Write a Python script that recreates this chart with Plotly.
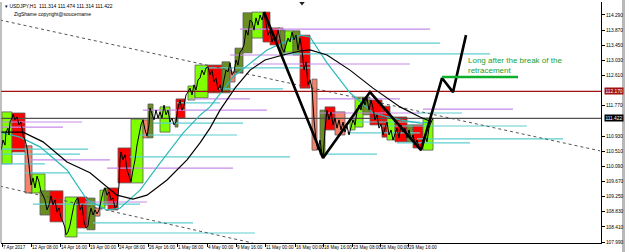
import plotly.graph_objects as go

# ---------------- data ----------------
# time axis: bar position on the chart, with its date labels
tick_pos = [2, 31, 60, 89, 118, 148, 177, 207, 236, 265, 295, 323, 352, 380, 408]
tick_text = ["7 Apr 2017", "12 Apr 08:00", "14 Apr 16:00", "19 Apr 00:00", "24 Apr 08:00",
             "26 Apr 16:00", "1 May 08:00", "4 May 00:00", "9 May 16:00", "11 May 00:00",
             "16 May 00:00", "18 May 16:00", "23 May 08:00", "26 May 00:00", "29 May 16:00"]

price_ticks = [107.99, 108.41, 108.83, 109.25, 109.67, 110.09, 110.51, 110.93,
               111.77, 112.61, 113.03, 113.45, 113.87, 114.29]

# USDJPY H1 price path
bar_x = [1, 3, 5, 6, 8, 9, 10, 12, 13, 15, 17, 19, 21, 23, 25, 27, 29, 30, 31, 33, 35, 37, 39, 41, 43,
         45, 47, 49, 51, 53, 55, 57, 59, 61, 63, 65, 66, 68, 70, 72, 74, 76, 78, 80, 82, 84, 86, 88,
         89, 91, 93, 95, 97, 99, 101, 103, 105, 107, 109, 111, 113, 115, 117, 119, 120, 121, 123,
         125, 127, 129, 131, 133, 135, 137, 139, 141, 143, 145, 147, 149, 150, 152, 154, 156, 158,
         160, 162, 164, 166, 168, 170, 172, 174, 176, 178, 180, 182, 184, 186, 188, 190, 192, 194,
         196, 198, 200, 202, 204, 206, 208, 210, 212, 214, 216, 218, 220, 222, 224, 226, 228, 230,
         232, 234, 236, 238, 240, 242, 244, 246, 248, 250, 252, 254, 256, 258, 260, 262, 264, 266,
         268, 270, 272, 274, 276, 278, 280, 282, 284, 286, 288, 290, 292, 294, 296, 298, 300, 302,
         304, 306, 308, 310, 312, 314, 316, 318, 320, 322, 323, 325, 327, 329, 331, 333, 335, 337,
         339, 341, 343, 345, 347, 349, 351, 353, 355, 357, 359, 361, 363, 365, 367, 369, 371, 373,
         375, 377, 379, 381, 383, 385, 387, 389, 391, 393, 395, 397, 399, 401, 403, 405, 407, 409,
         411, 413, 415, 417, 419, 421, 423, 425, 427, 429, 431, 433]
price = [110.54, 110.82, 110.68, 111.04, 111.15, 110.96, 111.32, 111.43, 111.54, 111.38, 111.46,
         111.24, 111.32, 110.96, 110.82, 110.60, 110.13, 109.85, 109.57, 109.77, 109.49, 109.82,
         109.66, 109.38, 109.29, 109.16, 108.88, 109.02, 109.27, 109.02, 109.16, 108.82, 108.93,
         108.66, 108.55, 108.38, 108.19, 108.27, 108.46, 108.74, 109.02, 109.16, 109.21, 108.88,
         109.02, 108.55, 108.38, 108.43, 108.66, 108.93, 108.74, 108.88, 108.77, 108.88, 109.16,
         109.38, 109.49, 109.29, 109.38, 109.16, 109.21, 108.93, 108.99, 109.57, 110.27, 110.49,
         110.27, 110.41, 109.99, 109.85, 109.66, 109.99, 110.27, 110.68, 110.96, 111.24, 111.38,
         111.10, 110.93, 111.24, 111.71, 111.52, 111.38, 111.65, 111.43, 111.60, 111.43, 111.79,
         111.52, 111.65, 111.32, 111.43, 111.24, 111.32, 111.71, 111.93, 111.65, 111.79, 112.07,
         112.15, 112.26, 112.07, 112.35, 112.21, 112.49, 112.54, 112.76, 112.63, 112.82, 112.85,
         112.63, 112.76, 112.43, 112.54, 112.21, 112.35, 112.15, 112.49, 112.76, 112.71, 112.96,
         112.63, 112.71, 113.04, 112.90, 113.26, 113.32, 113.46, 113.87, 113.73, 114.15, 114.10,
         113.87, 114.21, 114.01, 114.29, 114.15, 114.37, 114.10, 113.73, 113.87, 113.54, 113.73,
         113.60, 113.87, 113.65, 113.37, 113.26, 113.46, 113.65, 113.54, 113.82, 113.60, 113.73,
         113.32, 113.65, 113.32, 112.76, 112.99, 112.35, 112.49, 112.26, 111.38, 110.82, 110.54,
         110.82, 110.41, 110.32, 111.10, 111.65, 111.38, 111.60, 111.24, 111.43, 111.15, 111.38,
         111.10, 111.32, 111.04, 111.21, 110.96, 111.15, 111.38, 111.24, 111.60, 111.79, 111.65,
         111.99, 111.79, 111.99, 111.65, 111.93, 111.71, 111.38, 111.52, 111.15, 111.26, 110.96,
         111.15, 111.32, 110.96, 111.10, 110.82, 110.96, 111.15, 110.88, 111.24, 111.04, 111.15,
         110.88, 111.10, 110.82, 110.96, 110.68, 110.82, 110.60, 110.54, 110.82, 110.96, 110.77,
         111.15, 111.32, 111.42]

# ZigShame boxes: start bar, end bar, high, low, kind
box_x0 = [2, 12, 25, 32, 40, 50, 65, 77, 87, 95, 100, 104, 108, 118, 131, 143, 148, 160, 175, 176,
          188, 195, 208, 222, 230, 235, 243, 252, 263, 270, 278, 280, 285, 293, 300, 312, 320, 325,
          335, 350, 355, 363, 370, 382, 387, 395, 407, 413, 423]
box_x1 = [12, 25, 32, 45, 50, 63, 77, 87, 95, 100, 105, 108, 118, 131, 143, 148, 153, 170, 178, 185,
          195, 208, 222, 230, 235, 243, 252, 263, 270, 280, 283, 285, 293, 300, 310, 317, 325, 335,
          345, 355, 363, 370, 382, 390, 395, 407, 413, 423, 433]
box_hi = [111.60, 111.57, 110.66, 109.88, 109.41, 109.41, 109.24, 109.24, 109.21, 108.93, 109.43,
          109.49, 109.49, 110.60, 111.40, 111.38, 111.82, 111.74, 111.43, 111.96, 112.32, 112.90,
          112.90, 112.99, 112.71, 113.37, 114.35, 114.37, 114.37, 113.93, 113.93, 113.87, 113.85,
          113.85, 113.73, 112.51, 111.65, 111.74, 111.60, 111.38, 112.01, 112.01, 111.93, 111.76,
          111.46, 111.46, 111.24, 111.24, 111.43]
box_lo = [110.16, 110.49, 109.35, 109.35, 108.74, 108.55, 108.13, 108.38, 108.33, 108.71, 108.93,
          109.02, 108.88, 109.63, 109.63, 110.88, 110.88, 111.04, 111.18, 111.43, 111.93, 111.99,
          112.13, 112.13, 112.43, 112.68, 113.24, 113.65, 113.54, 113.46, 113.60, 113.18, 113.26,
          113.18, 112.26, 110.54, 110.41, 111.10, 110.96, 111.10, 111.18, 111.52, 111.24, 110.90,
          110.82, 110.77, 110.77, 110.60, 110.54]
box_kind = ["up", "down", "pull", "up", "side", "down", "up", "down", "side", "pull", "up", "side",
            "down", "down", "up", "pull", "side", "up", "side", "down", "up", "up", "down", "side",
            "pull", "side", "side", "up", "down", "down", "pull", "side", "up", "side", "down",
            "pull", "side", "down", "pull", "up", "up", "side", "down", "down", "up", "down", "side",
            "down", "up"]

# moving averages
ma_slow_x = [0, 23, 43, 67, 90, 117, 133, 147, 167, 187, 200, 210, 220, 235, 250, 265, 283, 300, 310,
             327, 350, 373, 400, 420, 432]
ma_slow = [111.04, 111.04, 110.77, 110.21, 109.91, 109.29, 109.18, 109.29, 109.71, 110.27, 110.74,
           111.15, 111.65, 112.26, 112.76, 113.04, 113.18, 113.29, 113.32, 113.18, 112.76, 112.26,
           111.74, 111.46, 111.32]
ma_fast_x = [0, 20, 40, 67, 87, 107, 120, 140, 160, 183, 200, 210, 233, 267, 300, 310, 327, 350, 373,
             400, 420, 432]
ma_fast = [111.04, 110.90, 110.63, 109.99, 109.16, 108.88, 108.93, 109.43, 110.18, 111.01, 111.51,
           111.74, 112.57, 113.32, 113.73, 113.68, 112.96, 112.13, 111.57, 111.38, 111.29, 111.32]

# support / resistance levels: start bar, end bar, price, kind
lvl_x0 = [0, 0, 0, 0, 27, 0, 25, 107, 130, 140, 143, 153, 177, 85, 33, 93, 77, 240, 310, 283, 230,
          253, 200, 217, 190, 317, 320, 357, 327, 347, 423, 417, 380, 417, 397]
lvl_x1 = [82, 63, 88, 80, 110, 45, 70, 233, 290, 237, 267, 243, 220, 147, 140, 193, 255, 430, 440, 490,
          300, 410, 310, 283, 250, 400, 420, 420, 377, 420, 513, 462, 527, 563, 470]
lvl_price = [111.32, 111.18, 110.57, 110.43, 110.27, 110.16, 109.91, 110.04, 110.35, 110.96, 111.65,
             111.29, 111.85, 109.10, 109.04, 108.52, 108.24, 113.90, 113.51, 113.21, 113.18, 112.93,
             112.82, 112.24, 111.96, 111.96, 111.57, 111.32, 110.43, 111.02, 111.68, 111.57, 111.21,
             110.85, 110.74]
lvl_kind = ["res", "res", "sup", "sup", "res", "sup", "sup", "res", "sup", "sup", "res", "sup", "sup",
            "res", "sup", "sup", "sup", "res", "sup", "sup", "res", "res", "sup", "sup", "res", "res",
            "res", "sup", "sup", "sup", "res", "sup", "sup", "sup", "sup"]

# dotted trend lines
trend1_x, trend1 = [0, 600], [114.15, 110.52]
trend2_x, trend2 = [0, 253], [109.54, 107.96]

# zigzag swings and projected path
zz_x = [264, 323, 370, 421, 442, 453, 466]
zz = [114.37, 110.32, 112.15, 110.54, 112.54, 112.15, 113.73]

breakout_x, breakout = [442, 518], [112.57, 112.57]
resist_level = 112.17
last_price = 111.422

# ---------------- figure ----------------
box_colors = {"up": "#80FF00", "down": "#FF0000", "side": "#6B8E23", "pull": "#F4846A"}
lvl_colors = {"res": "#C58BE8", "sup": "#5CCFD0"}
SMALL = "Liberation Sans"

fig = go.Figure()

shapes = []
for x0, x1, hi, lo, k in zip(box_x0, box_x1, box_hi, box_lo, box_kind):
    shapes.append(dict(type="rect", xref="x", yref="y", x0=x0, x1=x1, y0=lo, y1=hi,
                       fillcolor=box_colors[k], line=dict(color="#5a5a5a", width=0.8), layer="below"))

for kind in ["res", "sup"]:
    xs, ys = [], []
    for x0, x1, p, k in zip(lvl_x0, lvl_x1, lvl_price, lvl_kind):
        if k == kind:
            xs += [x0, x1, None]
            ys += [p, p, None]
    fig.add_trace(go.Scatter(x=xs, y=ys, mode="lines", line=dict(color=lvl_colors[kind], width=1.2),
                             hoverinfo="skip"))

fig.add_trace(go.Scatter(x=trend1_x, y=trend1, mode="lines",
                         line=dict(color="#555555", width=1, dash="dot")))
fig.add_trace(go.Scatter(x=trend2_x, y=trend2, mode="lines",
                         line=dict(color="#555555", width=1, dash="dot")))

fig.add_trace(go.Scatter(x=[0, 601], y=[resist_level, resist_level], mode="lines",
                         line=dict(color="#A01010", width=1.2)))
fig.add_trace(go.Scatter(x=[0, 601], y=[last_price, last_price], mode="lines",
                         line=dict(color="#505050", width=1.2)))

fig.add_trace(go.Scatter(x=ma_fast_x, y=ma_fast, mode="lines", line=dict(color="#2BB8B8", width=1.2)))
fig.add_trace(go.Scatter(x=ma_slow_x, y=ma_slow, mode="lines", line=dict(color="#000000", width=1.2)))

fig.add_trace(go.Scatter(x=bar_x, y=price, mode="lines", line=dict(color="#000000", width=1)))

fig.add_trace(go.Scatter(x=zz_x, y=zz, mode="lines", line=dict(color="#000000", width=2.6)))
fig.add_trace(go.Scatter(x=breakout_x, y=breakout, mode="lines", line=dict(color="#0DB02B", width=2.6)))

fig.add_trace(go.Scatter(x=[302], y=[114.62], mode="markers",
                         marker=dict(symbol="triangle-down", size=5, color="#222222")))

annotations = []
annotations.append(dict(x=466, y=113.02, xref="x", yref="y", xanchor="left", yanchor="middle",
                        align="left", text="Long after the break of the", showarrow=False,
                        font=dict(family=SMALL, size=8, color="#1DA02E")))
annotations.append(dict(x=466, y=112.76, xref="x", yref="y", xanchor="left", yanchor="middle",
                        align="left", text="retracement", showarrow=False,
                        font=dict(family=SMALL, size=8, color="#1DA02E")))
annotations.append(dict(x=0.003, y=0.985, xref="paper", yref="paper", xanchor="left", yanchor="middle",
                        text="▾ USDJPY,H1  111.314 111.474 111.314 111.422", showarrow=False,
                        font=dict(family=SMALL, size=5, color="#000000")))
annotations.append(dict(x=0.018, y=0.95, xref="paper", yref="paper", xanchor="left", yanchor="middle",
                        text="ZigShame copyright@soucername", showarrow=False,
                        font=dict(family=SMALL, size=5, color="#000000")))
for t, lab in zip(tick_pos, tick_text):
    annotations.append(dict(x=t, y=0, xref="x", yref="paper", xanchor="left", yanchor="top",
                            yshift=-1, text=lab, showarrow=False, borderpad=0,
                            font=dict(family=SMALL, size=4.6, color="#000000")))
for val, bg in [(resist_level, "#A01010"), (last_price, "#000000")]:
    annotations.append(dict(x=1, y=val, xref="paper", yref="y", xanchor="left", yanchor="middle",
                            xshift=3, text=f"{val:.3f}", showarrow=False, bgcolor=bg, borderpad=0.5,
                            font=dict(family=SMALL, size=4.8, color="#FFFFFF")))

shapes.append(dict(type="line", xref="paper", yref="paper", x0=0, x1=0, y0=0, y1=1,
                   line=dict(color="#808080", width=1)))
shapes.append(dict(type="rect", xref="paper", yref="paper", x0=1.035, x1=1.045, y0=-0.1, y1=1.1,
                   fillcolor="#B8B8B8", line=dict(width=0), layer="below"))

fig.update_layout(
    width=625, height=252,
    margin=dict(l=1, r=24, t=2, b=9),
    paper_bgcolor="white", plot_bgcolor="white",
    showlegend=False,
    shapes=shapes, annotations=annotations,
    xaxis=dict(range=[1, 601], showgrid=False, zeroline=False, tickvals=tick_pos,
               showticklabels=False, ticks="outside", ticklen=3, tickcolor="#000000",
               showline=True, linecolor="#000000", linewidth=1),
    yaxis=dict(range=[107.963, 114.65], side="right", showgrid=False, zeroline=False,
               tickvals=price_ticks, ticktext=[f"{v:.3f}" for v in price_ticks],
               ticks="outside", ticklen=3, tickcolor="#000000",
               tickfont=dict(family=SMALL, size=4.8, color="#000000"),
               showline=True, linecolor="#000000", linewidth=1),
)

fig.write_html("out.html")
